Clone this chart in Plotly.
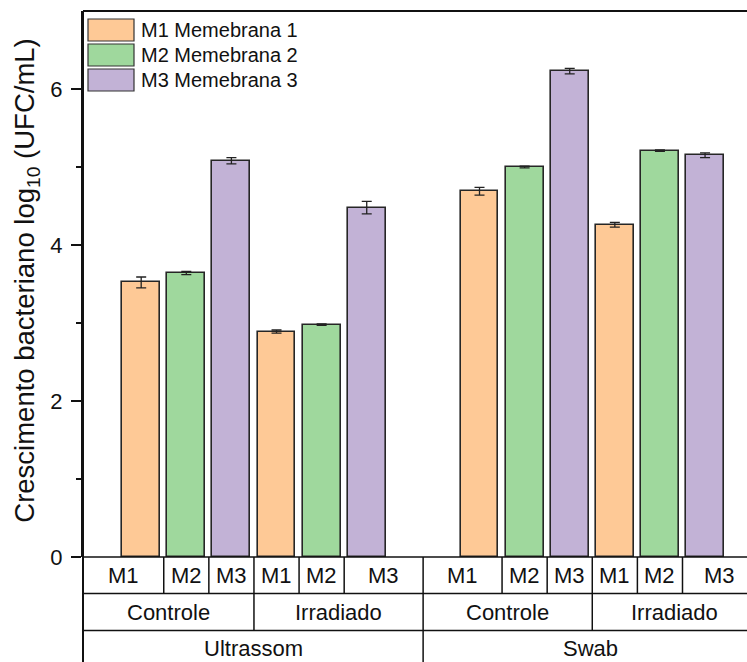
import plotly.graph_objects as go

# Grouping of the bars: method -> condition -> membrane
metodos = ["Ultrassom", "Swab"]
condicoes = ["Controle", "Irradiado"]
membranas = ["M1", "M2", "M3"]
nomes_legenda = ["M1 Memebrana 1", "M2 Memebrana 2", "M3 Memebrana 3"]
cores = ["#FEC996", "#9FD89D", "#C2B2D6"]

# log10 (UFC/mL) per membrane, in the order
# Ultrassom-Controle, Ultrassom-Irradiado, Swab-Controle, Swab-Irradiado
m1_valores = [3.52, 2.89, 4.69, 4.26]
m1_erros = [0.07, 0.02, 0.05, 0.03]
m2_valores = [3.64, 2.98, 5.00, 5.21]
m2_erros = [0.02, 0.01, 0.01, 0.01]
m3_valores = [5.08, 4.48, 6.23, 5.15]
m3_erros = [0.04, 0.08, 0.035, 0.03]

valores = [m1_valores, m2_valores, m3_valores]
erros = [m1_erros, m2_erros, m3_erros]

y_ticks = [0, 2, 4, 6]
titulo_y = "Crescimento bacteriano log<sub>10</sub> (UFC/mL)"

# layout of the category axis
GAP_METODO = 1.5          # extra space between the two methods
X_MIN, X_MAX = -1.29, 13.43
BORDA_DIREITA = 1.15      # table extends past the last bar by this much
FONTE = "Liberation Sans, Arial, sans-serif"
PRETO = "#111111"

n_grupos = len(metodos) * len(condicoes)


def posicao(grupo, k):
    extra = GAP_METODO if grupo >= len(condicoes) else 0.0
    return grupo * len(membranas) + k + extra


def px(v):
    return (v - X_MIN) / (X_MAX - X_MIN)


fig = go.Figure()
for k, nome in enumerate(membranas):
    fig.add_trace(go.Bar(
        x=[posicao(g, k) for g in range(n_grupos)],
        y=valores[k],
        width=0.84,
        name=nomes_legenda[k],
        marker=dict(color=cores[k], line=dict(color="#262626", width=1.6)),
        error_y=dict(type="data", array=erros[k], color="#222222",
                     thickness=1.3, width=5),
        showlegend=False,
    ))

# positions of all bars in drawing order along the axis
todas = sorted(posicao(g, k) for g in range(n_grupos) for k in range(len(membranas)))
meios = [(a + b) / 2 for a, b in zip(todas[:-1], todas[1:])]
bordas = [X_MIN] + meios + [todas[-1] + BORDA_DIREITA]

# category table rows (paper y)
ALT = 546.0
LARG = 664.0
L1 = -36.5 / ALT
L2 = -73.5 / ALT
L3 = -110.0 / ALT

linha = dict(color=PRETO, width=1.5)
shapes = []
# horizontal rules
for yy in (0.0, L1, L2):
    shapes.append(dict(type="line", xref="paper", yref="paper",
                       x0=0, x1=1.02, y0=yy, y1=yy, line=linha))
# top frame
shapes.append(dict(type="line", xref="paper", yref="paper",
                   x0=0, x1=1.02, y0=1, y1=1, line=dict(color=PRETO, width=2)))
# left axis continues down through the table
shapes.append(dict(type="line", xref="paper", yref="paper",
                   x0=0, x1=0, y0=1, y1=L3, line=dict(color=PRETO, width=2)))
# vertical separators
n_por_metodo = len(condicoes) * len(membranas)
for i, m in enumerate(meios):
    if (i + 1) % n_por_metodo == 0:
        fundo = L3
    elif (i + 1) % len(membranas) == 0:
        fundo = L2
    else:
        fundo = L1
    shapes.append(dict(type="line", xref="paper", yref="paper",
                       x0=px(m), x1=px(m), y0=0, y1=fundo, line=linha))

anot = []
fonte_tab = dict(family=FONTE, size=22, color=PRETO)
# membrane row
for i in range(len(todas)):
    c = (bordas[i] + bordas[i + 1]) / 2
    anot.append(dict(x=px(c), y=L1 / 2, xref="paper", yref="paper",
                     text=membranas[i % len(membranas)], showarrow=False,
                     font=fonte_tab, xanchor="center", yanchor="middle"))
# condition row
for g in range(n_grupos):
    a = bordas[g * len(membranas)]
    b = bordas[(g + 1) * len(membranas)]
    anot.append(dict(x=px((a + b) / 2), y=(L1 + L2) / 2, xref="paper", yref="paper",
                     text=condicoes[g % len(condicoes)], showarrow=False,
                     font=fonte_tab, xanchor="center", yanchor="middle"))
# method row
for j, nome in enumerate(metodos):
    a = bordas[j * n_por_metodo]
    b = bordas[(j + 1) * n_por_metodo]
    anot.append(dict(x=px((a + b) / 2), y=(L2 + L3) / 2, xref="paper", yref="paper",
                     text=nome, showarrow=False,
                     font=fonte_tab, xanchor="center", yanchor="middle"))

# y-axis title
anot.append(dict(x=-56 / LARG, y=0.506, xref="paper", yref="paper",
                 text=titulo_y, textangle=-90, showarrow=False,
                 xanchor="center", yanchor="middle",
                 font=dict(family=FONTE, size=27.5, color=PRETO)))

# legend drawn as swatches + labels in the upper-left corner
for k, nome in enumerate(nomes_legenda):
    topo = 8 + 25 * k
    shapes.append(dict(type="rect", xref="paper", yref="paper",
                       x0=5 / LARG, x1=51 / LARG,
                       y0=1 - topo / ALT, y1=1 - (topo + 22) / ALT,
                       fillcolor=cores[k], line=dict(color="#333333", width=1.2)))
    anot.append(dict(x=56 / LARG, y=1 - (topo + 11) / ALT, xref="paper", yref="paper",
                     text=nome, showarrow=False, xanchor="left", yanchor="middle",
                     font=dict(family=FONTE, size=20, color=PRETO)))

fig.update_layout(
    width=747, height=662,
    margin=dict(l=83, r=0, t=11, b=105),
    paper_bgcolor="white", plot_bgcolor="white",
    bargap=0, barmode="overlay",
    shapes=shapes, annotations=anot,
    font=dict(family=FONTE, color=PRETO),
    xaxis=dict(range=[X_MIN, X_MAX], showticklabels=False, showgrid=False,
               zeroline=False, showline=False, ticks=""),
    yaxis=dict(
        range=[0, 7], tickvals=y_ticks, showgrid=False, zeroline=False,
        showline=True, linecolor=PRETO, linewidth=2,
        ticks="outside", ticklen=10, tickwidth=1.5, tickcolor=PRETO,
        ticklabelstandoff=4,
        tickfont=dict(family=FONTE, size=22, color=PRETO),
        minor=dict(tickvals=[1, 3, 5], ticks="outside", ticklen=5,
                   tickwidth=1.5, tickcolor=PRETO),
    ),
)

fig.write_html("out.html")
